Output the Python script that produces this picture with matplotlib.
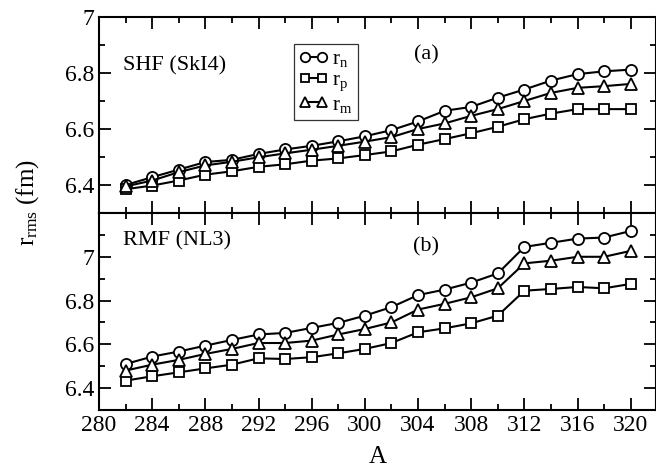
import numpy as np
import matplotlib
matplotlib.use("Agg")
import matplotlib.pyplot as plt
from matplotlib.ticker import FixedLocator, MultipleLocator, FormatStrFormatter

plt.rcParams["font.family"] = ["Liberation Serif", "DejaVu Serif"]
plt.rcParams["mathtext.fontset"] = "custom"
plt.rcParams["mathtext.rm"] = "Liberation Serif"
plt.rcParams["mathtext.it"] = "Liberation Serif:italic"

# --- donnees ---
A = [282, 284, 286, 288, 290, 292, 294, 296, 298, 300,
     302, 304, 306, 308, 310, 312, 314, 316, 318, 320]

# SHF (SkI4)
shf_rn = [6.400, 6.428, 6.455, 6.482, 6.490, 6.511, 6.527, 6.540, 6.556, 6.574,
          6.596, 6.627, 6.665, 6.679, 6.712, 6.741, 6.773, 6.796, 6.806, 6.812]
shf_rp = [6.385, 6.398, 6.416, 6.437, 6.449, 6.465, 6.474, 6.487, 6.495, 6.507,
          6.520, 6.544, 6.564, 6.585, 6.608, 6.635, 6.655, 6.671, 6.671, 6.671]
shf_rm = [6.395, 6.416, 6.446, 6.470, 6.483, 6.499, 6.513, 6.526, 6.540, 6.555,
          6.571, 6.600, 6.620, 6.647, 6.671, 6.700, 6.729, 6.747, 6.753, 6.761]

# RMF (NL3)
rmf_rn = [6.510, 6.544, 6.567, 6.594, 6.620, 6.645, 6.652, 6.675, 6.698, 6.731,
          6.770, 6.825, 6.850, 6.882, 6.924, 7.045, 7.064, 7.083, 7.088, 7.118]
rmf_rp = [6.434, 6.454, 6.472, 6.490, 6.507, 6.536, 6.533, 6.541, 6.559, 6.579,
          6.606, 6.655, 6.673, 6.696, 6.731, 6.845, 6.853, 6.862, 6.856, 6.876]
rmf_rm = [6.480, 6.507, 6.529, 6.556, 6.579, 6.606, 6.606, 6.617, 6.645, 6.670,
          6.700, 6.759, 6.785, 6.815, 6.856, 6.970, 6.982, 7.000, 7.000, 7.027]

x_ticks = list(range(280, 321, 4))
y_major = [6.4, 6.6, 6.8, 7.0]
y_minor = [6.3, 6.5, 6.7, 6.9, 7.1, 7.2]

TICK_FS = 17

fig = plt.figure(figsize=(6.56, 4.72), dpi=100)
ax1 = fig.add_axes([0.1509, 0.5487, 0.8491, 0.4153])
ax2 = fig.add_axes([0.1509, 0.1314, 0.8491, 0.4173])

style = dict(color="black", lw=1.5, mfc="white", mec="black", mew=1.3)

def tracer(ax, rn, rp, rm):
    ax.plot(A, rn, marker="o", ms=8, label=r"r$_\mathrm{n}$", **style)
    ax.plot(A, rp, marker="s", ms=7, label=r"r$_\mathrm{p}$", **style)
    ax.plot(A, rm, marker="^", ms=8, label=r"r$_\mathrm{m}$", **style)
    ax.set_xlim(280, 321.9)
    ax.xaxis.set_major_locator(FixedLocator(x_ticks))
    ax.xaxis.set_minor_locator(MultipleLocator(2))
    ax.yaxis.set_major_locator(FixedLocator(y_major))
    ax.yaxis.set_minor_locator(FixedLocator(y_minor))
    ax.yaxis.set_major_formatter(FormatStrFormatter("%g"))
    ax.tick_params(which="both", direction="in", top=True, right=True,
                   labelsize=TICK_FS, width=1.3)
    ax.tick_params(which="major", length=8.5)
    ax.tick_params(which="minor", length=4.5)
    for s in ax.spines.values():
        s.set_linewidth(1.5)

tracer(ax1, shf_rn, shf_rp, shf_rm)
ax1.set_ylim(6.3, 7.0)
ax1.tick_params(labelbottom=False)
ax1.text(281.8, 6.825, "SHF (SkI4)", fontsize=16, va="center")
ax1.text(304.6, 6.865, "(a)", fontsize=16, ha="center", va="center")
leg = ax1.legend(loc="upper left", bbox_to_anchor=(0.35, 0.86), fontsize=15,
                 numpoints=2, handlelength=1.4, handletextpad=0.2,
                 labelspacing=0.08, borderpad=0.25, borderaxespad=0,
                 fancybox=False, markerscale=0.85)
leg.get_frame().set_edgecolor("black")
leg.get_frame().set_linewidth(0.9)

tracer(ax2, rmf_rn, rmf_rp, rmf_rm)
ax2.set_ylim(6.3, 7.2)
ax2.text(281.8, 7.073, "RMF (NL3)", fontsize=16, va="center")
ax2.text(304.6, 7.045, "(b)", fontsize=16, ha="center", va="center")
ax2.set_xlabel("A", fontsize=18, labelpad=7)

fig.text(28 / 656, 1 - 203 / 472, r"r$_\mathrm{rms}$ (fm)", fontsize=18,
         rotation=90, ha="center", va="center")

fig.savefig("out.png", dpi=100)
